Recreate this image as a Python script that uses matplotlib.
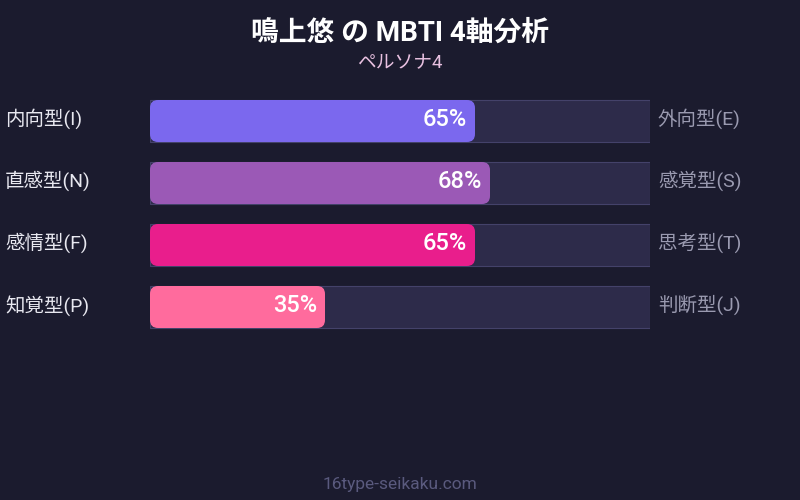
import matplotlib.pyplot as plt
from matplotlib.patches import FancyBboxPatch

plt.rcParams['font.family'] = ['Roboto', 'Noto Sans CJK JP', 'DejaVu Sans']

# data
left_labels = ['内向型(I)', '直感型(N)', '感情型(F)', '知覚型(P)']
right_labels = ['外向型(E)', '感覚型(S)', '思考型(T)', '判断型(J)']
values = [65, 68, 65, 35]
bar_colors = ['#7b68ee', '#9b59b6', '#e91e8c', '#ff6b9d']

bg = '#1b1b2e'
track_color = '#2d2b4a'
track_edge = '#44426a'

fig = plt.figure(figsize=(8, 5), dpi=100)
fig.patch.set_facecolor(bg)

fig.text(0.5, 1 - 33 / 500, '鳴上悠 の MBTI 4軸分析', ha='center', va='center',
         color='white', fontsize=20, fontweight='bold')
fig.text(0.5, 1 - 63 / 500, 'ペルソナ4', ha='center', va='center',
         color='#e8c0e0', fontsize=13.5)
fig.text(0.5, 1 - 484 / 500, '16type-seikaku.com', ha='center', va='center',
         color='#5a5a7e', fontsize=12.5)

# axes covering the track area: x 150..650 px, rows from y=90 to 338 px
ax = fig.add_axes([150 / 800, 1 - 338 / 500, 500 / 800, 248 / 500])
ax.set_xlim(0, 100)
ax.set_ylim(len(values) - 0.5, -0.5)
ax.axis('off')

bar_h = 42 / 62
aspect = (1 / 62) / (1 / 5)  # y-units per px / x-units per px
rad = 1.6  # ~8 px in x units

for i, (v, c) in enumerate(zip(values, bar_colors)):
    # background track
    ax.add_patch(FancyBboxPatch((0, i - bar_h / 2), 100, bar_h,
                                boxstyle='square,pad=0', facecolor=track_color,
                                edgecolor=track_edge, linewidth=0.8))
    # value bar
    ax.add_patch(FancyBboxPatch((0, i - bar_h / 2), v, bar_h,
                                boxstyle=f'round,pad=0,rounding_size={rad}',
                                mutation_aspect=aspect,
                                facecolor=c, edgecolor='none'))
    ax.text(v - 1.6, i - 0.02, f'{v}%', ha='right', va='center', color='white',
            fontsize=17, fontweight='medium')
    ax.text(-29, i - 0.03, left_labels[i], ha='left', va='center', color='#e8e8f0',
            fontsize=14, clip_on=False)
    ax.text(101.6, i - 0.03, right_labels[i], ha='left', va='center', color='#9a9ab0',
            fontsize=14, clip_on=False)

fig.savefig('out.png', dpi=100, facecolor=bg)
